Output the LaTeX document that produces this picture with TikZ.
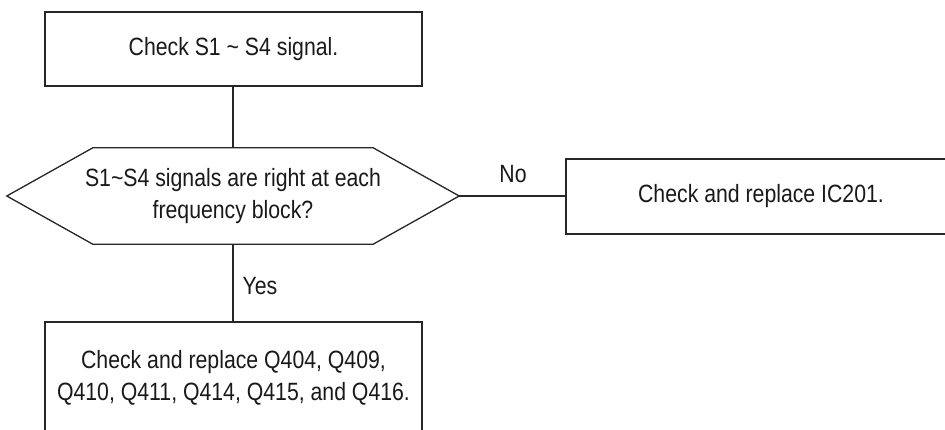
\documentclass[tikz,border=0pt]{standalone}
\usepackage{fontspec}
\setmainfont[FakeStretch=0.85]{Liberation Sans}
\usetikzlibrary{calc}
\begin{document}
\begin{tikzpicture}[x=1pt,y=-1pt,
  every node/.style={font=\fontsize{25}{32}\selectfont, text=black!90, inner sep=0pt},
  box/.style={draw=black!85, line width=1.3pt, rectangle},
  conn/.style={draw=black!85, line width=1.3pt},
  lbl/.style={}]
\useasboundingbox (0,0) rectangle (945,429);
\clip (0,0) rectangle (945,429);
\node[box, minimum width=377pt, minimum height=74pt] (top) at (233.5,49) {Check S1 \textasciitilde{} S4 signal.};
\node[minimum width=452pt, minimum height=96pt, align=center] (q) at (233,196) {S1\textasciitilde{}S4 signals are right at each\\frequency block?};
\draw[conn] (q.west) -- ($(q.north west)+(86,0)$) -- ($(q.north east)+(-86,0)$) -- (q.east) -- ($(q.south east)+(-86,0)$) -- ($(q.south west)+(86,0)$) -- cycle;
\node[box, minimum width=390pt, minimum height=75pt] (ic) at (761,196.5) {Check and replace IC201.};
\node[box, minimum width=377pt, minimum height=112pt, align=center] (qq) at (233.5,378) {Check and replace Q404, Q409,\\Q410, Q411, Q414, Q415, and Q416.};
\draw[conn] (top.south -| q.north) -- (q.north);
\draw[conn] (q.south) -- (qq.north -| q.south);
\draw[conn] (q.east) -- (q.east -| ic.west);
\node[lbl] (no) at (513,174) {No};
\node[lbl] (yes) at (260,286) {Yes};
\end{tikzpicture}
\end{document}
